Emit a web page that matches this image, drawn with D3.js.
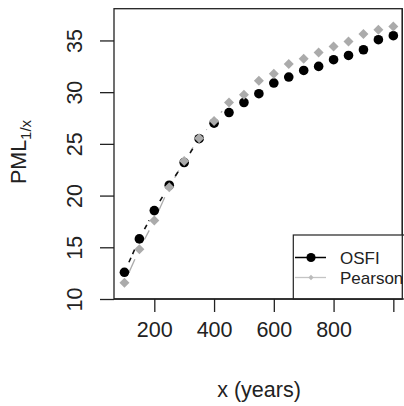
<!DOCTYPE html>
<html>
<head>
<meta charset="utf-8">
<script src="https://cdn.jsdelivr.net/npm/d3@7"></script>
<style>
  html, body { margin: 0; padding: 0; background: #fff; }
  svg { display: block; font-family: "Liberation Sans", Arial, sans-serif; }
</style>
</head>
<body>
<svg id="chart" width="404" height="406"></svg>
<script>
// ---- data ----
const years = [100,150,200,250,300,350,400,450,500,550,600,650,700,750,800,850,900,950,1000];
const osfi = [12.58,15.81,18.55,21.0,23.2,25.5,27.0,28.03,29.0,29.85,30.88,31.46,32.1,32.49,33.14,33.55,34.1,35.07,35.46];
const pearson = [11.58,14.81,17.58,20.8,23.35,25.55,27.2,29.0,29.75,31.1,31.78,32.72,33.23,33.84,34.42,34.91,35.62,36.04,36.36];
const xTicks = [200,400,600,800,1000];
const xTickLabels = ["200","400","600","800",""];
const yTicks = [10,15,20,25,30,35];
const seriesNames = ["OSFI","Pearson"];

// ---- layout ----
const svg = d3.select("#chart");
const L = 114, R = 402.3, T = 8.7, B = 299;
const x = d3.scaleLinear().domain([65.1, 1030]).range([L, R]);
const y = d3.scaleLinear().domain([10, 38.07]).range([B, T]);
const grey = "#ababab";

// plot box
svg.append("rect").attr("x", L).attr("y", T).attr("width", R - L).attr("height", B - T)
  .attr("fill", "none").attr("stroke", "#222").attr("stroke-width", 1.3);

// axes
const xAxis = d3.axisBottom(x).tickValues(xTicks).tickSize(13).tickPadding(10)
  .tickFormat((d, i) => xTickLabels[i]);
const gx = svg.append("g").attr("transform", `translate(0,${B})`).call(xAxis);
gx.select(".domain").remove();
gx.selectAll(".tick line").attr("stroke", "#222").attr("stroke-width", 1.3);
gx.selectAll(".tick text").attr("font-size", 21.5).attr("fill", "#222")
  .attr("font-family", "Liberation Sans, Arial, sans-serif");

const yAxis = d3.axisLeft(y).tickValues(yTicks).tickSize(14).tickFormat(d3.format("d"));
const gy = svg.append("g").attr("transform", `translate(${L},0)`).call(yAxis);
gy.select(".domain").remove();
gy.selectAll(".tick line").attr("stroke", "#222").attr("stroke-width", 1.3);
gy.selectAll(".tick text").attr("font-size", 21.5).attr("fill", "#222")
  .attr("font-family", "Liberation Sans, Arial, sans-serif")
  .attr("text-anchor", "middle").attr("dy", null).attr("x", null)
  .attr("transform", "translate(-32,0) rotate(-90)")
  .attr("y", 0).attr("dominant-baseline", "auto");

// axis titles
svg.append("text").attr("x", 259).attr("y", 397).attr("text-anchor", "middle")
  .attr("font-size", 21.5).attr("fill", "#222").text("x (years)");
const yl = svg.append("text").attr("transform", "translate(26,152) rotate(-90)")
  .attr("text-anchor", "middle").attr("font-size", 21.5).attr("fill", "#222");
yl.append("tspan").text("PML");
yl.append("tspan").attr("font-size", 15).attr("dy", 5).text("1/x");

// type "b" lines with gaps
function gapSegments(xs, ys, gap) {
  const segs = [];
  for (let i = 0; i < xs.length - 1; i++) {
    const x0 = x(xs[i]), y0 = y(ys[i]), x1 = x(xs[i+1]), y1 = y(ys[i+1]);
    const dx = x1 - x0, dy = y1 - y0, len = Math.hypot(dx, dy);
    if (len > 2 * gap) {
      const ux = dx / len, uy = dy / len;
      segs.push([x0 + ux * gap, y0 + uy * gap, x1 - ux * gap, y1 - uy * gap]);
    }
  }
  return segs;
}
const gLines = svg.append("g");
gLines.selectAll("line.p").data(gapSegments(years, pearson, 11)).enter().append("line")
  .attr("x1", d => d[0]).attr("y1", d => d[1]).attr("x2", d => d[2]).attr("y2", d => d[3])
  .attr("stroke", grey).attr("stroke-width", 1.3);
gLines.selectAll("line.o").data(gapSegments(years, osfi, 11)).enter().append("line")
  .attr("x1", d => d[0]).attr("y1", d => d[1]).attr("x2", d => d[2]).attr("y2", d => d[3])
  .attr("stroke", "#111").attr("stroke-width", 1.6).attr("stroke-dasharray", "5,4");

// points
const diamond = d3.symbol().type(d3.symbolSquare).size(50);
svg.append("g").selectAll("circle").data(years).enter().append("circle")
  .attr("cx", d => x(d)).attr("cy", (d, i) => y(osfi[i])).attr("r", 4.8).attr("fill", "#000");
svg.append("g").selectAll("path").data(years).enter().append("path")
  .attr("d", diamond())
  .attr("transform", (d, i) => `translate(${x(d)},${y(pearson[i])}) rotate(45)`)
  .attr("fill", grey);

// legend
const lg = svg.append("g");
lg.append("rect").attr("x", 293.3).attr("y", 235).attr("width", 130).attr("height", B - 235)
  .attr("fill", "#fff").attr("stroke", "#222").attr("stroke-width", 1.2);
const legY = [257.5, 277.5];
lg.append("line").attr("x1", 295).attr("x2", 326).attr("y1", legY[0]).attr("y2", legY[0])
  .attr("stroke", "#000").attr("stroke-width", 1.5);
lg.append("circle").attr("cx", 311).attr("cy", legY[0]).attr("r", 4.6).attr("fill", "#000");
lg.append("line").attr("x1", 295).attr("x2", 326).attr("y1", legY[1]).attr("y2", legY[1])
  .attr("stroke", "#c4c4c4").attr("stroke-width", 1.3);
lg.append("path").attr("d", d3.symbol().type(d3.symbolSquare).size(14)())
  .attr("transform", `translate(311,${legY[1]}) rotate(45)`).attr("fill", "#bbb");
lg.selectAll("text").data(seriesNames).enter().append("text")
  .attr("x", 340).attr("y", (d, i) => legY[i] + 6).attr("font-size", 17).attr("fill", "#222").text(d => d);
// plot right border over legend
svg.append("line").attr("x1", R).attr("x2", R).attr("y1", T).attr("y2", B)
  .attr("stroke", "#222").attr("stroke-width", 1.3);
svg.append("line").attr("x1", L).attr("x2", R).attr("y1", B).attr("y2", B)
  .attr("stroke", "#222").attr("stroke-width", 1.3);
</script>
</body>
</html>
